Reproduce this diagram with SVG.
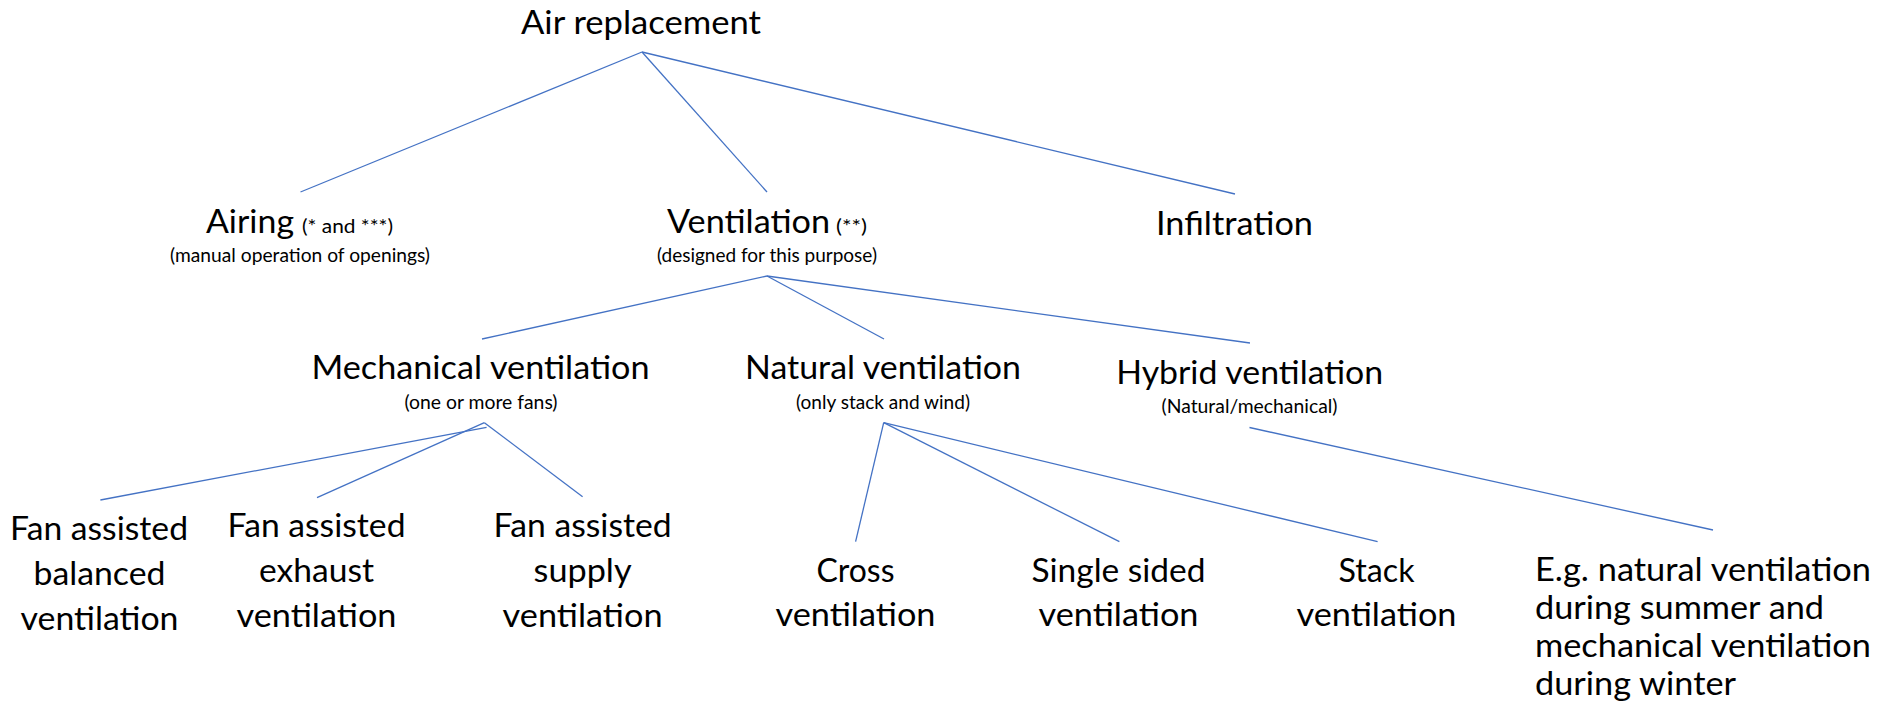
<svg xmlns="http://www.w3.org/2000/svg" width="1881" height="709" viewBox="0 0 1881 709">
<style>
text{font-family:Lato,"Liberation Sans",sans-serif;fill:#000;}
.t{font-size:33px;}
.s{font-size:18.5px;}
.m{text-anchor:middle;}
.c line{stroke:#4472C4;stroke-width:1.3;fill:none;}
</style>
<rect width="1881" height="709" fill="#fff"/>
<g id="connectors" class="c">
<line x1="642" y1="52" x2="300.5" y2="192"/>
<line x1="642" y1="52" x2="767" y2="192"/>
<line x1="642" y1="52" x2="1235" y2="194"/>
<line x1="767" y1="276" x2="482" y2="339"/>
<line x1="767" y1="276" x2="884" y2="339"/>
<line x1="767" y1="276" x2="1250" y2="343"/>
<line x1="484.4" y1="422.7" x2="317" y2="497.7"/>
<line x1="486.6" y1="427.3" x2="100.4" y2="500"/>
<line x1="484.4" y1="422.7" x2="582.6" y2="496.7"/>
<line x1="883.7" y1="422.7" x2="855.6" y2="541.7"/>
<line x1="883.7" y1="422.7" x2="1119.4" y2="541.7"/>
<line x1="883.7" y1="422.7" x2="1377.6" y2="541.7"/>
<line x1="1249.5" y1="427.5" x2="1713" y2="530"/>
</g>
<g id="air-replacement">
<text class="t" x="521" y="34" textLength="240" lengthAdjust="spacingAndGlyphs">Air replacement</text>
</g>
<g id="airing">
<text class="t" x="206" y="233" textLength="88" lengthAdjust="spacingAndGlyphs">Airing</text>
<text class="s" x="302" y="233" textLength="91" lengthAdjust="spacingAndGlyphs">(* and ***)</text>
<text class="s m" x="300" y="262" textLength="260" lengthAdjust="spacingAndGlyphs">(manual operation of openings)</text>
</g>
<g id="ventilation">
<text class="t" x="667" y="233" textLength="163" lengthAdjust="spacingAndGlyphs">Ventilation</text>
<text class="s" x="836" y="233" textLength="31" lengthAdjust="spacingAndGlyphs">(**)</text>
<text class="s m" x="767" y="262" textLength="220" lengthAdjust="spacingAndGlyphs">(designed for this purpose)</text>
</g>
<g id="infiltration">
<text class="t m" x="1234.5" y="235" textLength="157" lengthAdjust="spacingAndGlyphs">Infiltration</text>
</g>
<g id="mechanical">
<text class="t m" x="480.5" y="379" textLength="338" lengthAdjust="spacingAndGlyphs">Mechanical ventilation</text>
<text class="s m" x="481" y="409" textLength="153" lengthAdjust="spacingAndGlyphs">(one or more fans)</text>
</g>
<g id="natural">
<text class="t m" x="883" y="379" textLength="276" lengthAdjust="spacingAndGlyphs">Natural ventilation</text>
<text class="s m" x="883" y="409" textLength="174" lengthAdjust="spacingAndGlyphs">(only stack and wind)</text>
</g>
<g id="hybrid">
<text class="t m" x="1249.7" y="384" textLength="267" lengthAdjust="spacingAndGlyphs">Hybrid ventilation</text>
<text class="s m" x="1249.5" y="413" textLength="176" lengthAdjust="spacingAndGlyphs">(Natural/mechanical)</text>
</g>
<g id="fan-balanced">
<text class="t m" x="99" y="540" textLength="178" lengthAdjust="spacingAndGlyphs">Fan assisted</text>
<text class="t m" x="99.5" y="585" textLength="132" lengthAdjust="spacingAndGlyphs">balanced</text>
<text class="t m" x="99.5" y="630" textLength="158" lengthAdjust="spacingAndGlyphs">ventilation</text>
</g>
<g id="fan-exhaust">
<text class="t m" x="316.5" y="537" textLength="178" lengthAdjust="spacingAndGlyphs">Fan assisted</text>
<text class="t m" x="316.5" y="582" textLength="115" lengthAdjust="spacingAndGlyphs">exhaust</text>
<text class="t m" x="316.5" y="627" textLength="160" lengthAdjust="spacingAndGlyphs">ventilation</text>
</g>
<g id="fan-supply">
<text class="t m" x="582.6" y="537" textLength="178" lengthAdjust="spacingAndGlyphs">Fan assisted</text>
<text class="t m" x="582.6" y="582" textLength="98" lengthAdjust="spacingAndGlyphs">supply</text>
<text class="t m" x="582.6" y="627" textLength="160" lengthAdjust="spacingAndGlyphs">ventilation</text>
</g>
<g id="cross">
<text class="t m" x="855.5" y="582" textLength="78" lengthAdjust="spacingAndGlyphs">Cross</text>
<text class="t m" x="855.5" y="626" textLength="160" lengthAdjust="spacingAndGlyphs">ventilation</text>
</g>
<g id="single-sided">
<text class="t m" x="1118.5" y="582" textLength="174" lengthAdjust="spacingAndGlyphs">Single sided</text>
<text class="t m" x="1118.5" y="626" textLength="160" lengthAdjust="spacingAndGlyphs">ventilation</text>
</g>
<g id="stack">
<text class="t m" x="1376.5" y="582" textLength="76" lengthAdjust="spacingAndGlyphs">Stack</text>
<text class="t m" x="1376.5" y="626" textLength="160" lengthAdjust="spacingAndGlyphs">ventilation</text>
</g>
<g id="hybrid-example">
<text class="t" x="1535" y="581" textLength="336" lengthAdjust="spacingAndGlyphs">E.g. natural ventilation</text>
<text class="t" x="1535" y="619" textLength="289" lengthAdjust="spacingAndGlyphs">during summer and</text>
<text class="t" x="1535" y="657" textLength="336" lengthAdjust="spacingAndGlyphs">mechanical ventilation</text>
<text class="t" x="1535" y="695" textLength="201" lengthAdjust="spacingAndGlyphs">during winter</text>
</g>
</svg>
